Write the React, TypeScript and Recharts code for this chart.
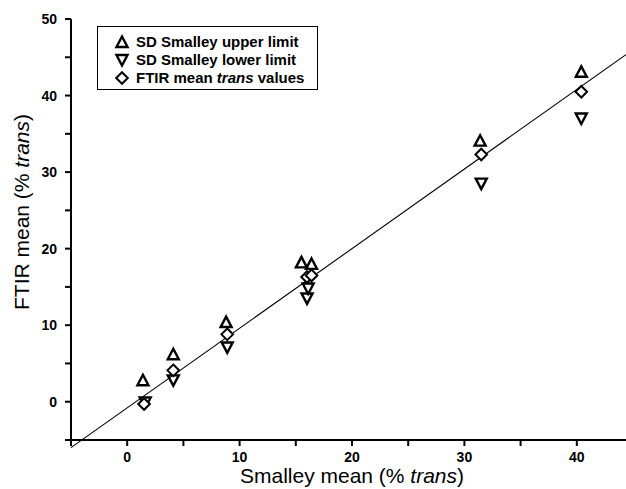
import React from 'react';
import { ScatterChart, Scatter, XAxis, YAxis, ReferenceLine, Legend, Label } from 'recharts';

// Smalley mean (x) vs FTIR mean (y), % trans
const upperX = [1.4, 4.1, 8.8, 15.5, 16.4, 31.4, 40.4];
const upperY = [2.8, 6.2, 10.4, 18.2, 18.0, 34.1, 43.1];
const lowerX = [1.6, 4.1, 8.9, 16.1, 16.0, 31.5, 40.4];
const lowerY = [-0.1, 2.8, 7.1, 14.8, 13.5, 28.5, 37.0];
const meanX = [1.5, 4.1, 8.9, 16.0, 16.4, 31.5, 40.4];
const meanY = [-0.3, 4.1, 8.8, 16.3, 16.5, 32.3, 40.5];
const fitX = [-5, 45];
const fitY = [-6.0, 46.0];

const xTicks = [-5, 0, 5, 10, 15, 20, 25, 30, 35, 40, 45];
const yTicks = [-5, 0, 5, 10, 15, 20, 25, 30, 35, 40, 45, 50];
const xLabelTicks = [0, 10, 20, 30, 40];
const yLabelTicks = [0, 10, 20, 30, 40, 50];

const seriesNames = ['SD Smalley upper limit', 'SD Smalley lower limit', 'FTIR mean trans values'];

const toPoints = (xs: number[], ys: number[]) => xs.map((x, i) => ({ x, y: ys[i] }));

const TriUp = (p: any) => {
  const { cx, cy } = p;
  const s = 5.5;
  return <path d={`M${cx},${cy - s} L${cx + s},${cy + s * 0.9} L${cx - s},${cy + s * 0.9} Z`} fill="none" stroke="#000" strokeWidth={2.4} />;
};
const TriDown = (p: any) => {
  const { cx, cy } = p;
  const s = 5.5;
  return <path d={`M${cx},${cy + s} L${cx + s},${cy - s * 0.9} L${cx - s},${cy - s * 0.9} Z`} fill="none" stroke="#000" strokeWidth={2.4} />;
};
const Diamond = (p: any) => {
  const { cx, cy } = p;
  const s = 5.8;
  return <path d={`M${cx},${cy - s} L${cx + s},${cy} L${cx},${cy + s} L${cx - s},${cy} Z`} fill="#fff" stroke="#000" strokeWidth={2} />;
};

const shapes = [TriUp, TriDown, Diamond];

const renderName = (name: string) => {
  const parts = name.split('trans');
  if (parts.length < 2) return name;
  return (
    <>
      {parts[0]}
      <tspan fontStyle="italic">trans</tspan>
      {parts[1]}
    </>
  );
};

const LegendBox = () => (
  <div style={{ border: '1.5px solid #000', boxSizing: 'border-box', width: 221, height: 64, background: '#fff' }}>
    <svg width={218} height={61}>
      {seriesNames.map((n, i) => {
        const Shape = shapes[i];
        const cy = 15 + i * 18;
        return (
          <g key={n}>
            <Shape cx={24} cy={cy} />
            <text x={38} y={cy + 5} fontFamily="Liberation Sans, Arial, sans-serif" fontWeight="bold" fontSize={15} fill="#000">
              {renderName(n)}
            </text>
          </g>
        );
      })}
    </svg>
  </div>
);

const XTick = (p: any) => {
  const { x, y, payload } = p;
  if (!xLabelTicks.includes(payload.value)) return <g />;
  return (
    <text x={x} y={y + 14} textAnchor="middle" fontFamily="Liberation Sans, Arial, sans-serif" fontWeight="bold" fontSize={14} fill="#000">
      {payload.value}
    </text>
  );
};

const YTick = (p: any) => {
  const { x, y, payload } = p;
  if (!yLabelTicks.includes(payload.value)) return <g />;
  return (
    <text x={x} y={y + 5} textAnchor="end" fontFamily="Liberation Sans, Arial, sans-serif" fontWeight="bold" fontSize={14} fill="#000">
      {payload.value}
    </text>
  );
};

export default function App() {
  return (
    <div style={{ position: 'absolute', left: 0, top: 0, width: 626, height: 489, overflow: 'hidden', background: '#fff' }}>
      <ScatterChart width={640} height={489} margin={{ top: 19, right: 7, bottom: 0, left: 0 }}>
        <XAxis
          type="number"
          dataKey="x"
          domain={[-5, 45]}
          ticks={xTicks}
          interval={0}
          allowDataOverflow
          height={49}
          tickSize={6}
          tickMargin={2}
          tick={<XTick />}
          axisLine={{ stroke: '#000', strokeWidth: 2 }}
          tickLine={{ stroke: '#000', strokeWidth: 2 }}
        >
          <Label
            content={(props: any) => {
              const vb = props.viewBox;
              return (
                <text x={vb.x + vb.width / 2} y={483} textAnchor="middle" fontFamily="Liberation Sans, Arial, sans-serif" fontSize={21} fill="#000">
                  Smalley mean (% <tspan fontStyle="italic">trans</tspan>)
                </text>
              );
            }}
          />
        </XAxis>
        <YAxis
          type="number"
          dataKey="y"
          domain={[-5, 50]}
          ticks={yTicks}
          interval={0}
          allowDataOverflow
          width={71}
          tickSize={6}
          tickMargin={8}
          tick={<YTick />}
          axisLine={{ stroke: '#000', strokeWidth: 2 }}
          tickLine={{ stroke: '#000', strokeWidth: 2 }}
        >
          <Label
            content={() => (
              <text x={29} y={212} transform="rotate(-90 29 212)" textAnchor="middle" fontFamily="Liberation Sans, Arial, sans-serif" fontSize={21} fill="#000">
                FTIR mean (% <tspan fontStyle="italic">trans</tspan>)
              </text>
            )}
          />
        </YAxis>
        <ReferenceLine
          segment={[{ x: fitX[0], y: fitY[0] }, { x: fitX[1], y: fitY[1] }]}
          stroke="#000"
          strokeWidth={1.1}
          ifOverflow="visible"
        />
        <Scatter name={seriesNames[0]} data={toPoints(upperX, upperY)} shape={TriUp} isAnimationActive={false} />
        <Scatter name={seriesNames[1]} data={toPoints(lowerX, lowerY)} shape={TriDown} isAnimationActive={false} />
        <Scatter name={seriesNames[2]} data={toPoints(meanX, meanY)} shape={Diamond} isAnimationActive={false} />
        <Legend
          layout="vertical"
          align="center"
          verticalAlign="middle"
          content={() => <LegendBox />}
          wrapperStyle={{ left: 97, top: 26, width: 221, height: 64 }}
        />
      </ScatterChart>
    </div>
  );
}
